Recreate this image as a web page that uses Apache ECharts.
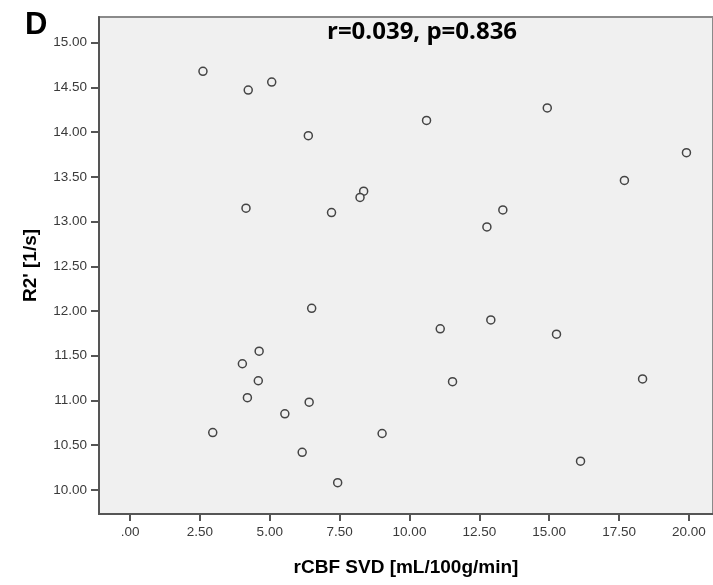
<!DOCTYPE html>
<html>
<head>
<meta charset="utf-8">
<script src="https://cdn.jsdelivr.net/npm/echarts@6/dist/echarts.min.js"></script>
<style>html,body{margin:0;padding:0;background:#fff;}#c{width:713px;height:585px;}</style>
</head>
<body>
<div id="c"></div>
<script>
const rcbf = [2.61,4.23,5.07,6.38,10.61,14.93,19.91,17.69,8.36,8.23,4.15,7.21,13.34,12.77,6.50,11.10,12.91,15.26,4.62,4.02,4.59,11.54,18.34,4.20,6.41,5.54,2.96,9.02,6.16,7.43,16.12];
const r2 = [14.68,14.47,14.56,13.96,14.13,14.27,13.77,13.46,13.34,13.27,13.15,13.10,13.13,12.94,12.03,11.80,11.90,11.74,11.55,11.41,11.22,11.21,11.24,11.03,10.98,10.85,10.64,10.63,10.42,10.08,10.32];
const xTicks = [0,2.5,5,7.5,10,12.5,15,17.5,20];
const yTicks = [10,10.5,11,11.5,12,12.5,13,13.5,14,14.5,15];
const statText = 'r=0.039, p=0.836';
const panelLabel = 'D';
const xName = 'rCBF SVD [mL/100g/min]';
const yName = "R2' [1/s]";

const points = rcbf.map((v,i)=>[v, r2[i]]);
const fmt = v => v === 0 ? '.00' : v.toFixed(2);

const chart = echarts.init(document.getElementById('c'), null, {renderer:'canvas'});
chart.setOption({
  backgroundColor:'#ffffff',
  animation:false,
  title:[
    {text:panelLabel, left:20, top:5, textStyle:{fontFamily:'Liberation Sans', fontWeight:'bold', fontSize:31, color:'#000'}},
    {text:statText, left:322, top:15, textStyle:{fontFamily:'Open Sans', fontWeight:'bold', fontSize:24, color:'#000'}}
  ],
  grid:{left:99, top:17, right:-6, bottom:71, show:true, backgroundColor:'#f0f0f0', borderColor:'#8a8a8a', borderWidth:2},
  xAxis:{
    type:'value', min:-1.11, max:20.86,
    name:xName, nameLocation:'middle', nameGap:44,
    nameTextStyle:{fontFamily:'Liberation Sans', fontWeight:'bold', fontSize:19, color:'#000'},
    axisLine:{show:true, onZero:false, lineStyle:{color:'#555', width:2}},
    axisTick:{show:true, length:7, customValues:xTicks, lineStyle:{color:'#555', width:2}},
    axisLabel:{customValues:xTicks, formatter:fmt, fontFamily:'Liberation Sans', fontSize:13.5, color:'#3a3a3a', margin:11},
    splitLine:{show:false}
  },
  yAxis:{
    type:'value', min:9.73, max:15.287,
    name:yName, nameLocation:'middle', nameGap:59, nameRotate:90,
    nameTextStyle:{fontFamily:'Liberation Sans', fontWeight:'bold', fontSize:19, color:'#000'},
    axisLine:{show:true, onZero:false, lineStyle:{color:'#555', width:2}},
    axisTick:{show:true, length:8, customValues:yTicks, lineStyle:{color:'#555', width:2}},
    axisLabel:{customValues:yTicks, formatter:v=>v.toFixed(2), fontFamily:'Liberation Sans', fontSize:13.5, color:'#3a3a3a', margin:12},
    splitLine:{show:false}
  },
  series:[{
    type:'scatter',
    data:points,
    symbol:'circle',
    symbolSize:8,
    itemStyle:{color:'#f0f0f0', borderColor:'#444', borderWidth:1.5, opacity:1}
  }]
});
</script>
</body>
</html>
